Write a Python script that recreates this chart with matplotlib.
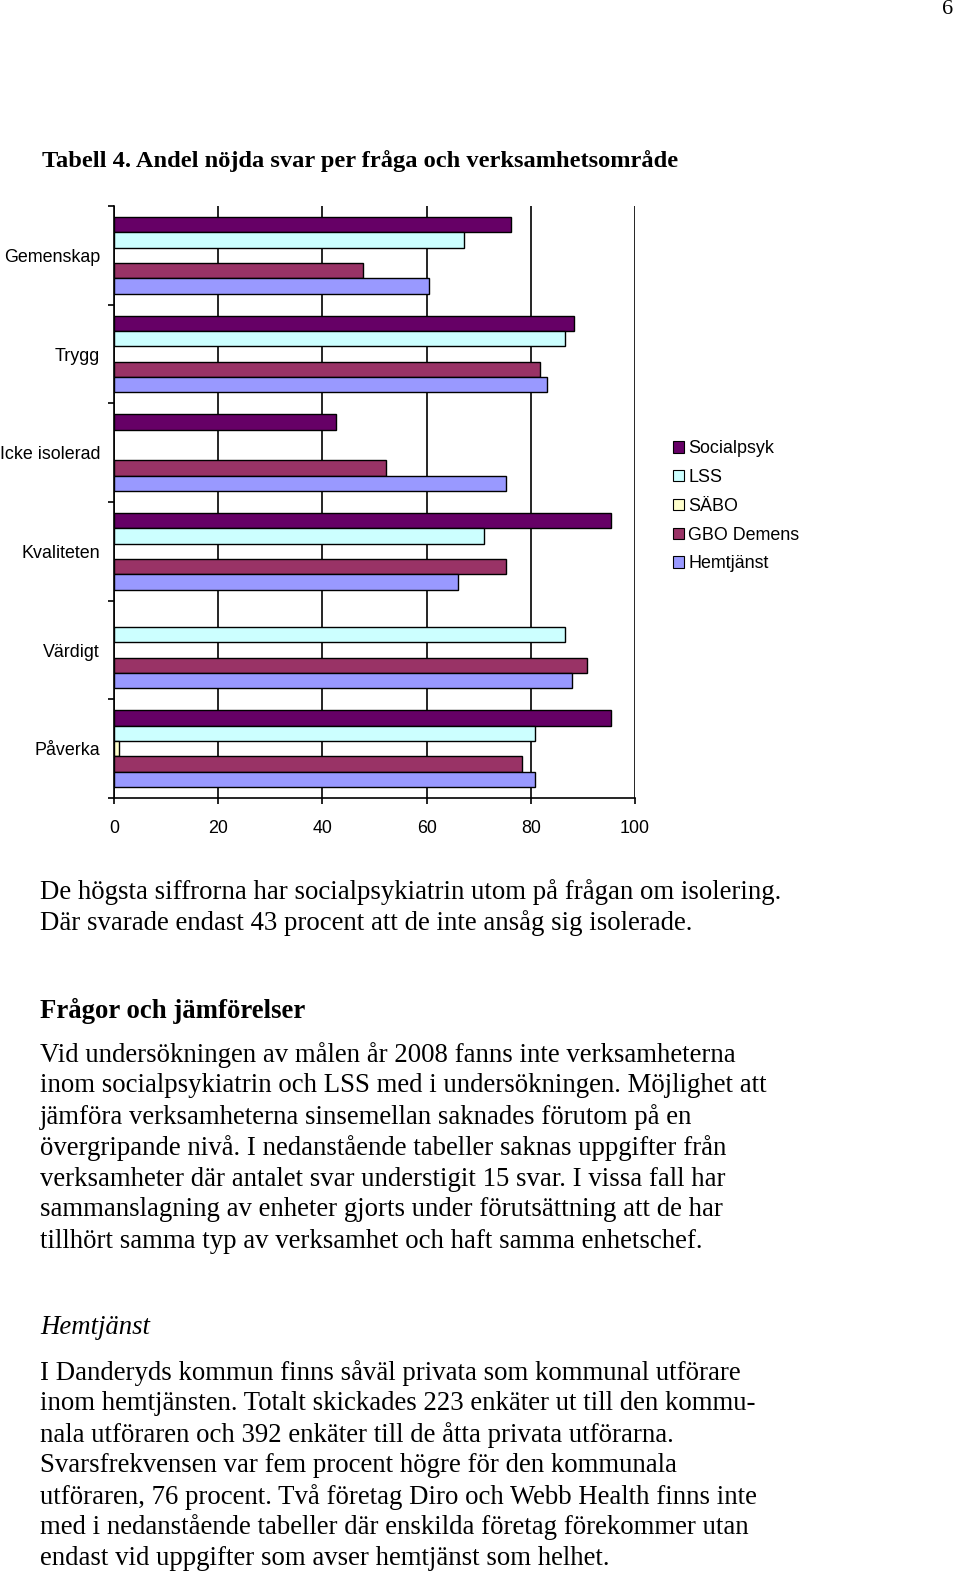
import numpy as np
import matplotlib
matplotlib.use("Agg")
import matplotlib.pyplot as plt
from matplotlib.patches import Patch

W, H = 960, 1573
categories = ["Gemenskap", "Trygg", "Icke isolerad", "Kvaliteten", "Värdigt", "Påverka"]
series = ["Socialpsyk", "LSS", "SÄBO", "GBO Demens", "Hemtjänst"]
colors = ["#660066", "#CCFFFF", "#FFFFCC", "#993366", "#9999FF"]
socialpsyk = [76.2, 88.2, 42.7, 95.4, np.nan, 95.4]
lss = [67.1, 86.6, np.nan, 71.1, 86.6, 80.9]
sabo = [np.nan, np.nan, np.nan, np.nan, np.nan, 1.0]
gbo_demens = [47.7, 81.7, 52.2, 75.3, 90.8, 78.4]
hemtjanst = [60.4, 83.2, 75.3, 66.0, 87.9, 80.9]
values = [socialpsyk, lss, sabo, gbo_demens, hemtjanst]
xticks = [0, 20, 40, 60, 80, 100]

fig = plt.figure(figsize=(W / 100, H / 100), dpi=100)

def fx(x):
    return x / W

def fy(y):
    return 1 - y / H

left, right, top, bottom = 114, 635, 206, 798
ax = fig.add_axes([fx(left), fy(bottom), (right - left) / W, (bottom - top) / H])

h = 0.155
y = np.arange(len(categories))
for k, (name, vals, c) in enumerate(zip(series, values, colors)):
    vals = np.array(vals, dtype=float)
    m = ~np.isnan(vals)
    ax.barh(y[m] + (k - 2) * h, vals[m], height=h, color=c, edgecolor="black",
            linewidth=1.0, label=name, zorder=3)

ax.set_xlim(0, 100)
ax.set_ylim(len(categories) - 0.5, -0.5)
ax.set_xticks(xticks)
ax.set_xticklabels([str(t) for t in xticks], fontsize=12.9, family="Liberation Sans")
ax.set_yticks(y)
ax.set_yticklabels(categories, fontsize=12.9, family="Liberation Sans")
ax.tick_params(axis="y", which="major", length=0, pad=10)
ax.set_yticks(np.arange(len(categories) + 1) - 0.5, minor=True)
ax.tick_params(axis="y", which="minor", length=4, width=1.2, direction="out")
ax.tick_params(axis="x", which="major", length=4, width=1.2, direction="out", pad=11.5)
ax.grid(axis="x", color="black", linewidth=1.2, zorder=0)
ax.set_axisbelow(True)
for s in ["top", "right"]:
    ax.spines[s].set_visible(False)
for s in ["left", "bottom"]:
    ax.spines[s].set_linewidth(1.2)

handles = [Patch(facecolor=c, edgecolor="black", linewidth=0.8) for c in colors]
fig.legend(handles, series, loc="upper left",
           bbox_to_anchor=(fx(666), fy(433)), frameon=False,
           prop={"family": "Liberation Sans", "size": 12.9},
           handlelength=0.6, handleheight=0.6, handletextpad=0.25,
           labelspacing=0.66, borderaxespad=0)

serif = "Liberation Serif"
fig.text(fx(948), fy(10), "6", fontsize=16, family=serif, ha="center", va="center")
fig.text(fx(42), fy(161), "Tabell 4. Andel nöjda svar per fråga och verksamhetsområde",
         fontsize=17.6, family=serif, weight="bold", va="center")

fs = 19.3
lines1 = ["De högsta siffrorna har socialpsykiatrin utom på frågan om isolering.",
          "Där svarade endast 43 procent att de inte ansåg sig isolerade."]
for i, t in enumerate(lines1):
    fig.text(fx(40), fy(892 + 31 * i), t, fontsize=fs, family=serif, va="center")

fig.text(fx(40), fy(1011), "Frågor och jämförelser", fontsize=fs, family=serif,
         weight="bold", va="center")
lines2 = ["Vid undersökningen av målen år 2008 fanns inte verksamheterna",
          "inom socialpsykiatrin och LSS med i undersökningen. Möjlighet att",
          "jämföra verksamheterna sinsemellan saknades förutom på en",
          "övergripande nivå. I nedanstående tabeller saknas uppgifter från",
          "verksamheter där antalet svar understigit 15 svar. I vissa fall har",
          "sammanslagning av enheter gjorts under förutsättning att de har",
          "tillhört samma typ av verksamhet och haft samma enhetschef."]
for i, t in enumerate(lines2):
    fig.text(fx(40), fy(1055 + 31 * i), t, fontsize=fs, family=serif, va="center")

fig.text(fx(40), fy(1328), "Hemtjänst", fontsize=fs, family=serif,
         style="italic", va="center")
lines3 = ["I Danderyds kommun finns såväl privata som kommunal utförare",
          "inom hemtjänsten. Totalt skickades 223 enkäter ut till den kommu-",
          "nala utföraren och 392 enkäter till de åtta privata utförarna.",
          "Svarsfrekvensen var fem procent högre för den kommunala",
          "utföraren, 76 procent. Två företag Diro och Webb Health finns inte",
          "med i nedanstående tabeller där enskilda företag förekommer utan",
          "endast vid uppgifter som avser hemtjänst som helhet."]
for i, t in enumerate(lines3):
    fig.text(fx(40), fy(1373 + 30.9 * i), t, fontsize=fs, family=serif, va="center")

fig.savefig("out.png", dpi=100)
